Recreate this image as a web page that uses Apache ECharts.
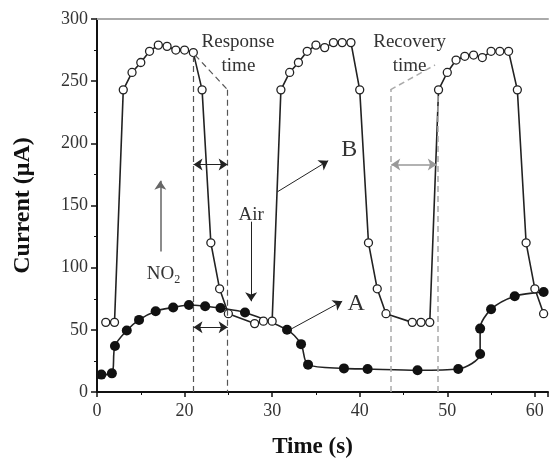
<!DOCTYPE html>
<html>
<head>
<meta charset="utf-8">
<script src="https://cdn.jsdelivr.net/npm/echarts@6/dist/echarts.min.js"></script>
<style>
  html, body { margin: 0; padding: 0; background: #fff; }
  #chart { width: 551px; height: 464px; }
</style>
</head>
<body>
<div id="chart"></div>
<script>
// time is kept on the figure's own scale: its first tick is printed as "0"
const xTicks = [10, 20, 30, 40, 50, 60];
const xTickLabels = ['0', '20', '30', '40', '50', '60'];
const yTicks = [0, 50, 100, 150, 200, 250, 300];

// curve B (open circles)
const timeB = [11, 12, 13, 14, 15, 16, 17, 18, 19, 20, 21, 22, 23, 24, 25,
    28, 29, 30, 31, 32, 33, 34, 35, 36, 37, 38, 39, 40, 41, 42, 43,
    46, 47, 48, 49, 50, 51, 52, 53, 54, 55, 56, 57, 58, 59, 60, 61];
const currentB = [56, 56, 243, 257, 265, 274, 279, 278, 275, 275, 273, 243, 120, 83, 63,
    55, 57, 57, 243, 257, 265, 274, 279, 277, 281, 281, 281, 243, 120, 83, 63,
    56, 56, 56, 243, 257, 267, 270, 271, 269, 274, 274, 274, 243, 120, 83, 63];

// curve A (filled circles)
const timeA = [10.5, 11.7, 12.05, 13.4, 14.8, 16.7, 18.7, 20.5, 22.35, 24.1, 26.9,
    31.7, 33.3, 34.1, 38.2, 40.9, 46.6, 51.25, 53.75, 53.75, 55.0, 57.7, 61.0];
const currentA = [14, 15, 37, 49.5, 58, 65, 68, 70, 69, 67.5, 64,
    50, 38.5, 22, 19, 18.5, 17.5, 18.5, 30.5, 51, 66.5, 77, 80.5];

const serif = "'Liberation Serif', 'DejaVu Serif', serif";
const dark = '#333';

function pairs(xs, ys) {
    return xs.map((x, i) => [x, ys[i]]);
}

function seg(a, b, style, startSym, endSym) {
    return [
        { coord: a, symbol: startSym || 'none', lineStyle: style },
        { coord: b, symbol: endSym || 'none' }
    ];
}

function note(text, coord, size) {
    return {
        coord: coord,
        name: text,
        label: { show: true, position: 'inside', formatter: text, fontFamily: serif, fontSize: size || 19, color: dark }
    };
}

const dashDark = { type: [6, 4], color: '#555', width: 1.2 };
const dashLight = { type: [6, 4], color: '#aaa', width: 1.5 };
const thin = { type: 'solid', color: '#222', width: 1 };
const thinGray = { type: 'solid', color: '#999', width: 1.5 };
const arrowGray = { type: 'solid', color: '#666', width: 1.5 };

const chart = echarts.init(document.getElementById('chart'));

chart.setOption({
    animation: false,
    grid: { left: 97, right: 1, top: 19, bottom: 70 },
    xAxis: [{
        type: 'value',
        min: 10,
        max: 61.5,
        interval: 10,
        name: 'Time (s)',
        nameLocation: 'middle',
        nameGap: 44,
        nameTextStyle: { fontFamily: serif, fontWeight: 'bold', fontSize: 23, color: '#111', padding: [0, 20, 0, 0] },
        axisLine: { lineStyle: { color: '#111', width: 2 } },
        axisTick: { length: 5, lineStyle: { color: '#111', width: 1.5 } },
        minorTick: { show: true, splitNumber: 2, length: 3, lineStyle: { color: '#111' } },
        axisLabel: {
            fontFamily: serif, fontSize: 18, color: dark, margin: 10,
            formatter: v => xTickLabels[xTicks.indexOf(v)] || ''
        },
        splitLine: { show: false }
    }, {
        type: 'value',
        position: 'top',
        min: 10,
        max: 61.5,
        axisLine: { show: true, lineStyle: { color: '#aaa', width: 2 } },
        axisTick: { show: false },
        axisLabel: { show: false },
        splitLine: { show: false }
    }],
    yAxis: {
        type: 'value',
        min: 0,
        max: 300,
        interval: 50,
        name: 'Current (\u03bcA)',
        nameLocation: 'middle',
        nameGap: 62,
        nameTextStyle: { fontFamily: serif, fontWeight: 'bold', fontSize: 24, color: '#111' },
        axisLine: { show: true, lineStyle: { color: '#111', width: 2 } },
        axisTick: { length: 6, lineStyle: { color: '#111', width: 1.5 } },
        minorTick: { show: true, splitNumber: 2, length: 3, lineStyle: { color: '#111' } },
        axisLabel: {
            fontFamily: serif, fontSize: 18, color: dark, margin: 9,
            formatter: v => (yTicks.indexOf(v) >= 0 ? String(v) : '')
        },
        splitLine: { show: false }
    },
    series: [{
        name: 'B',
        type: 'line',
        data: pairs(timeB, currentB),
        symbol: 'circle',
        symbolSize: 8,
        itemStyle: { color: '#fff', borderColor: '#222', borderWidth: 1.3 },
        lineStyle: { color: '#222', width: 1.6 },
        z: 3
    }, {
        name: 'A',
        type: 'line',
        data: pairs(timeA, currentA),
        smooth: 0.3,
        symbol: 'circle',
        symbolSize: 10,
        itemStyle: { color: '#111' },
        lineStyle: { color: '#222', width: 1.6 },
        z: 2,
        markLine: {
            silent: true,
            symbol: ['none', 'none'],
            symbolSize: 9,
            label: { show: false },
            data: [
                // response time guides
                seg([21.02, 0], [21.02, 271], dashDark),
                seg([21.2, 271], [24.92, 243], dashDark),
                seg([24.92, 243], [24.92, 0], dashDark),
                seg([21.02, 183], [24.92, 183], thin, 'arrow', 'arrow'),
                seg([21.02, 52], [24.92, 52], thin, 'arrow', 'arrow'),
                // recovery time guides
                seg([43.49, 0], [43.49, 243], dashLight),
                seg([43.49, 243], [48.6, 263], dashLight),
                seg([48.95, 0], [48.95, 240], dashLight),
                seg([43.6, 183], [48.8, 183], thinGray, 'arrow', 'arrow'),
                // pointers
                seg([17.23, 113], [17.23, 170], arrowGray, 'none', 'arrow'),
                seg([27.6, 137], [27.6, 73], thin, 'none', 'arrow'),
                seg([30.6, 161], [36.4, 186], thin, 'none', 'arrow'),
                seg([32.0, 50], [38.0, 73], thin, 'none', 'arrow')
            ]
        },
        markPoint: {
            silent: true,
            symbol: 'circle',
            symbolSize: 1,
            itemStyle: { color: 'rgba(0,0,0,0)' },
            data: [
                note('Response', [26.1, 281.5]),
                note('time', [26.15, 262.5]),
                note('Recovery', [45.7, 281.5]),
                note('time', [45.7, 262.5]),
                note('Air', [27.6, 142]),
                note('B', [38.8, 195], 24),
                note('A', [39.6, 71], 24),
                {
                    coord: [17.6, 95],
                    name: 'NO2',
                    label: {
                        show: true, position: 'inside',
                        formatter: '{n|NO}{s|2}',
                        rich: {
                            n: { fontFamily: serif, fontSize: 19, color: dark },
                            s: { fontFamily: serif, fontSize: 12, color: dark, padding: [12, 0, 0, 0], verticalAlign: 'bottom' }
                        }
                    }
                }
            ]
        }
    }]
});
</script>
</body>
</html>
